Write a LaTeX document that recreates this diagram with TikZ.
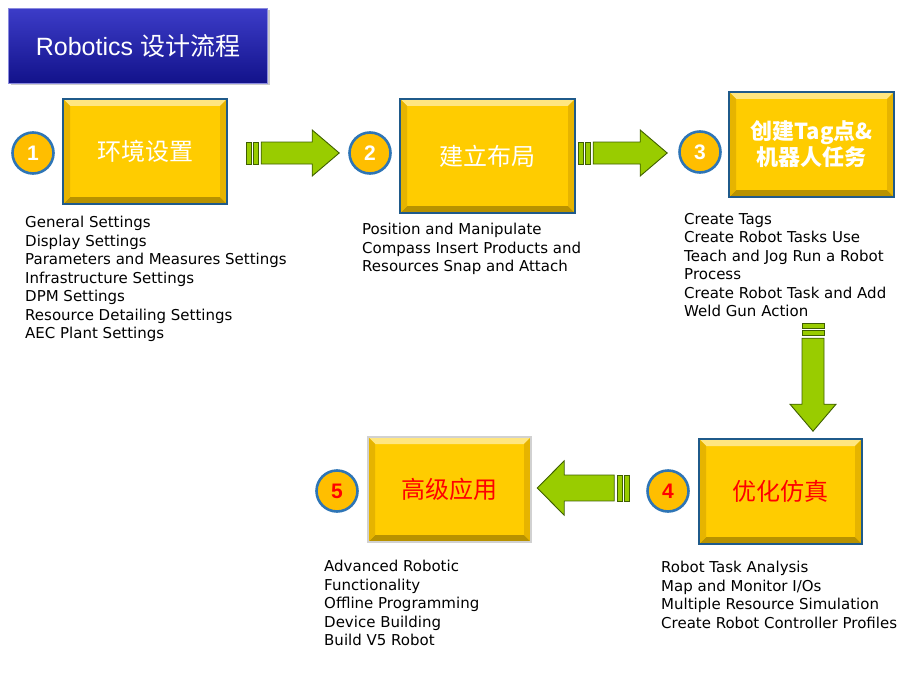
\documentclass[tikz,border=0pt]{standalone}
\usepackage{fontspec}
\setmainfont{DejaVu Sans}
\newfontfamily\cjk{Noto Sans CJK SC}
\newfontfamily\arial{Liberation Sans}
\usetikzlibrary{calc,shadows}
\definecolor{boxyellow}{HTML}{FFCC00}
\definecolor{bevellight}{HTML}{FFE680}
\definecolor{beveldark}{HTML}{B89200}
\definecolor{bevelside}{HTML}{E6B400}
\definecolor{boxline}{HTML}{1F5A8A}
\definecolor{ballfill}{HTML}{FFBE00}
\definecolor{ballline}{HTML}{2E75B6}
\definecolor{arrowgreen}{HTML}{99CC00}
\definecolor{arrowline}{HTML}{3F5F00}
\definecolor{titletop}{HTML}{3C3CC8}
\definecolor{titlebot}{HTML}{12128A}
\definecolor{steptext}{HTML}{FF0000}
\tikzset{
  stepbox/.style={draw=boxline, line width=2.4pt, fill=boxyellow, inner sep=0pt,
    text=white, font=\cjk\fontsize{24}{27}\selectfont, align=center,
    path picture={
      \fill[bevellight] (path picture bounding box.north west) -- (path picture bounding box.north east)
        -- ($(path picture bounding box.north east)+(-7pt,-7pt)$) -- ($(path picture bounding box.north west)+(7pt,-7pt)$) -- cycle;
      \fill[beveldark] (path picture bounding box.south west) -- (path picture bounding box.south east)
        -- ($(path picture bounding box.south east)+(-7pt,7pt)$) -- ($(path picture bounding box.south west)+(7pt,7pt)$) -- cycle;
      \fill[bevelside] (path picture bounding box.north west) -- (path picture bounding box.south west)
        -- ($(path picture bounding box.south west)+(7pt,7pt)$) -- ($(path picture bounding box.north west)+(7pt,-7pt)$) -- cycle;
      \fill[bevelside] (path picture bounding box.north east) -- (path picture bounding box.south east)
        -- ($(path picture bounding box.south east)+(-7pt,7pt)$) -- ($(path picture bounding box.north east)+(-7pt,-7pt)$) -- cycle;
    }},
  ball/.style={circle, draw=ballline, line width=2.6pt, fill=ballfill, minimum size=41pt, inner sep=0pt,
    text=white, font=\arial\bfseries\fontsize{21}{21}\selectfont},
  notes/.style={anchor=north west, inner sep=0pt, align=left, font=\fontsize{15}{18.5}\selectfont},
  arrowbody/.style={draw=arrowline, line width=0.9pt, fill=arrowgreen, line join=miter}
}
% green block arrow: start point, direction, length
\newcommand\greenarrow[4][]{%
  \begin{scope}[shift={#2}, rotate=#3, #1]
    \draw[arrowbody] (0,-11) rectangle (5,11);
    \draw[arrowbody] (7,-11) rectangle (12,11);
    \draw[arrowbody] (15,-11) -- (#4-27,-11) -- (#4-27,-23) -- (#4,0) -- (#4-27,23) -- (#4-27,11) -- (15,11) -- cycle;
  \end{scope}}

\begin{document}
\begin{tikzpicture}[x=1pt, y=-1pt]
  %%%%% START %%%%%
  \useasboundingbox (0,0) rectangle (920,690);

  % title
  \node[draw=titletop!60!white, line width=1pt, top color=titletop, bottom color=titlebot,
    minimum width=259pt, minimum height=75pt, drop shadow={shadow xshift=2pt, shadow yshift=-2pt, opacity=0.4},
    text=white, font=\arial\fontsize{25}{25}\selectfont] (title) at (138,46) {Robotics \cjk 设计流程};

  % steps
  \node[stepbox, minimum width=164pt, minimum height=105pt] (box1) at (145,151.5) {环境设置};
  \node[stepbox, minimum width=175pt, minimum height=114pt] (box2) at (487.5,156) {建立布局};
  \node[stepbox, minimum width=165pt, minimum height=105pt, font=\cjk\bfseries\fontsize{22}{26}\selectfont] (box3) at (811.5,144.5) {创建Tag点\&\\机器人任务};
  \node[stepbox, minimum width=163pt, minimum height=105pt, text=steptext] (box4) at (780.5,491.5) {优化仿真};
  \node[stepbox, minimum width=163pt, minimum height=105pt, text=steptext, draw=black!18] (box5) at (449.5,489.5) {高级应用};

  \node[ball] (n1) at (33,153) {1};
  \node[ball] (n2) at (370,153) {2};
  \node[ball] (n3) at (700,152) {3};
  \node[ball, text=steptext] (n4) at (668,491) {4};
  \node[ball, text=steptext] (n5) at (337,491) {5};

  % arrows
  \greenarrow{($(box1.east)+(18,1.5)$)}{0}{93}
  \greenarrow{($(box2.east)+(2,-3)$)}{0}{89}
  \greenarrow{($(box3.south)+(1.5,125)$)}{-90}{108}
  \greenarrow[yscale=1.18]{($(n4.west)+(-17,-3)$)}{180}{92}

  % notes
  \node[notes] (t1) at (25,216) {General Settings\\Display Settings\\Parameters and Measures Settings\\Infrastructure Settings\\DPM Settings\\Resource Detailing Settings\\AEC Plant Settings};
  \node[notes] (t2) at (362,223) {Position and Manipulate\\Compass Insert Products and\\Resources Snap and Attach};
  \node[notes] (t3) at (684,213) {Create Tags\\Create Robot Tasks Use\\Teach and Jog Run a Robot\\Process\\Create Robot Task and Add\\Weld Gun Action};
  \node[notes] (t4) at (661,561) {Robot Task Analysis\\Map and Monitor I/Os\\Multiple Resource Simulation\\Create Robot Controller Profiles};
  \node[notes] (t5) at (324,560) {Advanced Robotic\\Functionality\\Offline Programming\\Device Building\\Build V5 Robot};
  %%%%% END %%%%%
\end{tikzpicture}
\end{document}
